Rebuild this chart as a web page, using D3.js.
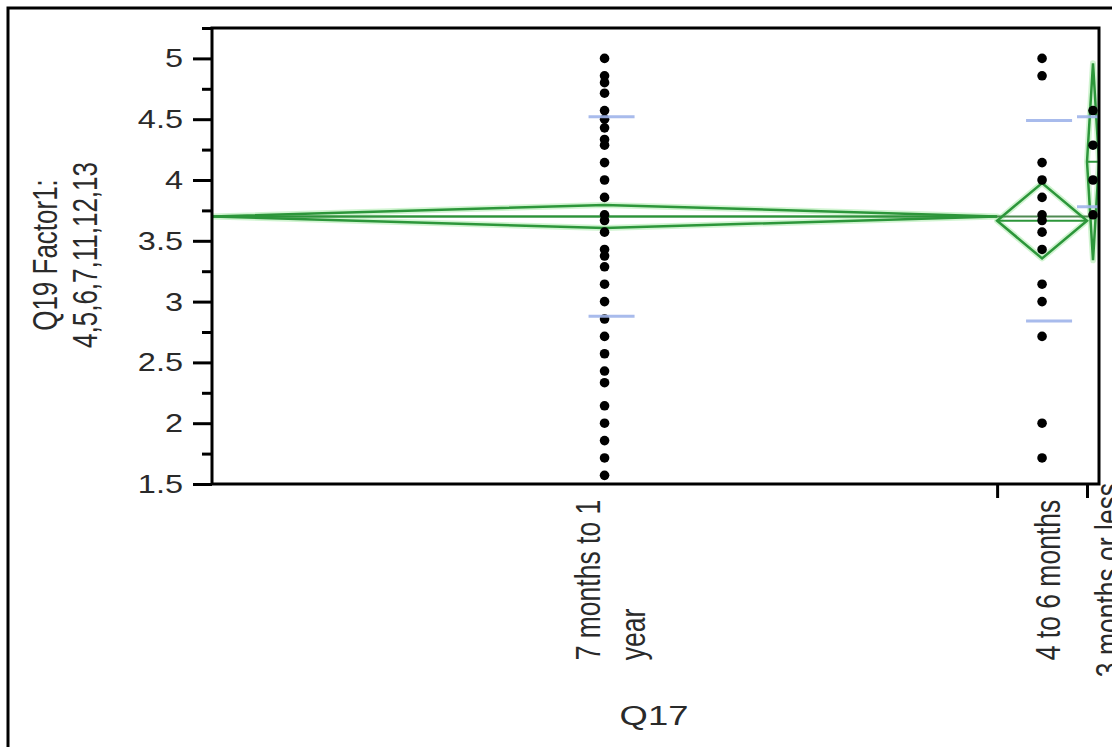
<!DOCTYPE html>
<html><head><meta charset="utf-8">
<script src="https://cdn.jsdelivr.net/npm/d3@7"></script>
<style>html,body{margin:0;padding:0;background:#fff;overflow:hidden}</style>
</head><body><svg id="c" width="1112" height="747"></svg>
<script>
// ---- data ----
const categories = ["7 months to 1 year", "4 to 6 months", "3 months or less"];
const categoryLines = [["7 months to 1", "year"], ["4 to 6 months"], ["3 months or less"]];
const groupCounts = [262, 30, 4];
const group1Values = [5.0, 4.857, 4.8, 4.714, 4.571, 4.5, 4.429, 4.333, 4.286, 4.143, 4.0, 3.857,
  3.714, 3.667, 3.571, 3.429, 3.375, 3.286, 3.143, 3.0, 2.857, 2.714, 2.571, 2.429, 2.333, 2.143,
  2.0, 1.857, 1.714, 1.571];
const group2Values = [5.0, 4.857, 4.143, 4.0, 3.857, 3.714, 3.667, 3.571, 3.429, 3.143, 3.0, 2.714, 2.0, 1.714];
const group3Values = [4.571, 4.286, 4.0, 3.714];
const groupMeans = [3.70, 3.665, 4.15];
const groupCIHalf = [0.095, 0.31, 0.81];
const groupSD = [0.82, 0.825, 0.37];
const grandMean = 3.70;
const yTickValues = [1.5, 2, 2.5, 3, 3.5, 4, 4.5, 5];
const yTickLabels = ["1.5", "2", "2.5", "3", "3.5", "4", "4.5", "5"];
const yMinorTicks = [1.75, 2.25, 2.75, 3.25, 3.75, 4.25, 4.75, 5.25];
const yTitleLines = ["Q19 Factor1:", "4,5,6,7,11,12,13"];
const xTitle = "Q17";

const groupValues = [group1Values, group2Values, group3Values];

// ---- layout ----
const L = 212, R = 1099, T = 28, B = 484;
const svg = d3.select("#c");
const FONT = "'Liberation Sans', Arial, sans-serif";
const STRETCH = 1.3;
const TEXT = "#2a2a2a";

const y = d3.scaleLinear().domain([1.5, 5.25]).range([B, T]);
const total = d3.sum(groupCounts);
const x = d3.scaleLinear().domain([0, total]).range([L, R]);
const starts = [];
groupCounts.reduce((acc, c) => { starts.push(acc); return acc + c; }, 0);
const groups = categories.map((c, i) => {
  const x0 = x(starts[i]), x1 = x(starts[i] + groupCounts[i]);
  return { name: c, lines: categoryLines[i], x0, x1, xc: (x0 + x1) / 2,
    mean: groupMeans[i], ci: groupCIHalf[i], sd: groupSD[i], values: groupValues[i] };
});

// outer frame
svg.append("path").attr("d", "M8,747 L8,8 L1112,8")
  .attr("fill", "none").attr("stroke", "#000").attr("stroke-width", 3);

svg.append("defs").append("clipPath").attr("id", "plotclip")
  .append("rect").attr("x", L).attr("y", T).attr("width", R - L).attr("height", B - T);

const plot = svg.append("g").attr("clip-path", "url(#plotclip)");

const diamondPath = g => `M${g.x0},${y(g.mean)} L${g.xc},${y(g.mean + g.ci)} L${g.x1},${y(g.mean)} L${g.xc},${y(g.mean - g.ci)} Z`;

// light green halo under the diamonds
groups.forEach(g => {
  plot.append("path").attr("d", diamondPath(g))
    .attr("fill", "none").attr("stroke", "#bdf0bd").attr("stroke-width", 6)
    .attr("stroke-linejoin", "round").attr("opacity", 0.7);
});

// grand mean
plot.append("line").attr("x1", L).attr("x2", R)
  .attr("y1", y(grandMean)).attr("y2", y(grandMean))
  .attr("stroke", "#4f8a52").attr("stroke-width", 2);

// diamonds + means
const GREEN = "#2c963a";
groups.forEach(g => {
  plot.append("path").attr("d", diamondPath(g))
    .attr("fill", "none").attr("stroke", GREEN).attr("stroke-width", 2.5)
    .attr("stroke-linejoin", "miter");
  plot.append("line").attr("x1", g.x0).attr("x2", g.x1)
    .attr("y1", y(g.mean)).attr("y2", y(g.mean))
    .attr("stroke", GREEN).attr("stroke-width", 2);
});

// dots
groups.forEach(g => {
  plot.selectAll(null).data(g.values).enter().append("circle")
    .attr("cx", g.xc).attr("cy", d => y(d)).attr("r", 4.8).attr("fill", "#000");
});

// std dev lines
groups.forEach(g => {
  [g.mean + g.sd, g.mean - g.sd].forEach(v => {
    plot.append("line").attr("x1", g.xc - 16).attr("x2", g.xc + 30)
      .attr("y1", y(v)).attr("y2", y(v))
      .attr("stroke", "#9fb4ea").attr("stroke-width", 3).attr("opacity", 0.9);
  });
});

// plot frame
svg.append("rect").attr("x", L).attr("y", T).attr("width", R - L).attr("height", B - T)
  .attr("fill", "none").attr("stroke", "#000").attr("stroke-width", 3);

// y axis ticks
const yMajor = svg.append("g").attr("transform", `translate(${L},0)`)
  .call(d3.axisLeft(y).tickValues(yTickValues).tickSize(19).tickFormat(""));
const yMinor = svg.append("g").attr("transform", `translate(${L},0)`)
  .call(d3.axisLeft(y).tickValues(yMinorTicks).tickSize(10).tickFormat(""));
[yMajor, yMinor].forEach(a => {
  a.select(".domain").remove();
  a.selectAll(".tick line").attr("stroke", "#000").attr("stroke-width", 3);
});

// y tick labels
yTickValues.forEach((v, i) => {
  svg.append("text").attr("transform", `translate(183,${y(v)}) scale(${STRETCH},1)`)
    .attr("text-anchor", "end").attr("dy", "0.36em")
    .attr("font-family", FONT).attr("font-size", 25).attr("fill", TEXT)
    .text(yTickLabels[i]);
});

// y title
yTitleLines.forEach((t, i) => {
  svg.append("text").attr("transform", `translate(${57 + i * 40},255) scale(1.35,1) rotate(-90)`)
    .attr("text-anchor", "middle")
    .attr("font-family", FONT).attr("font-size", 26).attr("fill", TEXT)
    .text(t);
});

// x ticks at group boundaries
const xAxis = svg.append("g").attr("transform", `translate(0,${B})`)
  .call(d3.axisBottom(x).tickValues(starts.slice(1)).tickSize(14).tickFormat(""));
xAxis.select(".domain").remove();
xAxis.selectAll(".tick line").attr("stroke", "#000").attr("stroke-width", 3);

// x category labels (rotated, lines left-aligned in a block centred vertically)
let prevBase = -Infinity;
groups.forEach(g => {
  const n = g.lines.length;
  const fs = 26.5;
  const tmp = svg.append("text").attr("font-family", FONT).attr("font-size", fs);
  const longest = d3.max(g.lines, l => { tmp.text(l); return tmp.node().getComputedTextLength(); });
  tmp.remove();
  const startY = 580 + longest / 2;
  g.lines.forEach((l, i) => {
    let bx = g.xc + 17.5 + (i - (n - 1) / 2) * 45;
    if (i === 0) { bx = Math.max(bx, prevBase + 60); }
    else { bx = prevBase + 45; }
    prevBase = bx;
    svg.append("text").attr("transform", `translate(${bx},${startY}) scale(${STRETCH},1) rotate(-90)`)
      .attr("text-anchor", "start")
      .attr("font-family", FONT).attr("font-size", fs).attr("fill", TEXT)
      .text(l);
  });
});

// x title
svg.append("text").attr("transform", `translate(654,725) scale(${STRETCH},1)`)
  .attr("text-anchor", "middle")
  .attr("font-family", FONT).attr("font-size", 28).attr("fill", TEXT)
  .text(xTitle);
</script>
</body></html>
